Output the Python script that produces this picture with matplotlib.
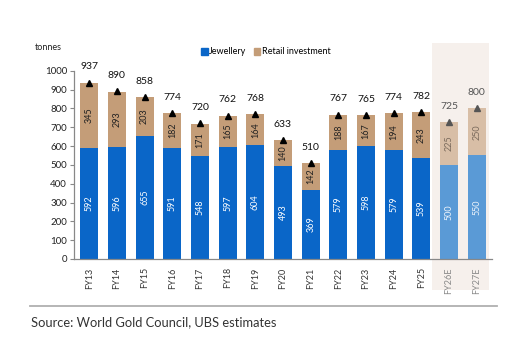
import matplotlib
matplotlib.use("Agg")
import matplotlib.pyplot as plt
from matplotlib.patches import Rectangle
from matplotlib.lines import Line2D
import matplotlib.transforms as mtransforms

plt.rcParams['font.family'] = ['Lato', 'DejaVu Sans']

years = ["FY13", "FY14", "FY15", "FY16", "FY17", "FY18", "FY19", "FY20",
         "FY21", "FY22", "FY23", "FY24", "FY25", "FY26E", "FY27E"]
jewellery = [592, 596, 655, 591, 548, 597, 604, 493, 369, 579, 598, 579, 539, 500, 550]
retail = [345, 293, 203, 182, 171, 165, 164, 140, 142, 188, 167, 194, 243, 225, 250]
totals = [937, 890, 858, 774, 720, 762, 768, 633, 510, 767, 765, 774, 782, 725, 800]
n_forecast = 2

BLUE = "#0a66c8"
TAN = "#c49d78"
BLUE_E = "#5a9ad6"
TAN_E = "#d8bea6"
SHADE = "#f6f0ec"

W, H = 519, 345
fig = plt.figure(figsize=(W / 100, H / 100), dpi=100)
ax = fig.add_axes([74 / W, 1 - 259 / H, (492 - 74) / W, (259 - 70.7) / H])

n = len(years)
x = list(range(n))
jcol = [BLUE] * (n - n_forecast) + [BLUE_E] * n_forecast
rcol = [TAN] * (n - n_forecast) + [TAN_E] * n_forecast
width = 0.65

# shaded forecast band
trans = mtransforms.blended_transform_factory(ax.transData, ax.transAxes)
x0 = n - n_forecast - 0.62
ax.add_patch(Rectangle((x0, -0.165), 2.07, 1.31, transform=trans,
                       facecolor=SHADE, edgecolor="none", clip_on=False, zorder=0))

ax.bar(x, jewellery, width=width, color=jcol, zorder=2, label="Jewellery")
ax.bar(x, retail, width=width, bottom=jewellery, color=rcol, zorder=2,
       label="Retail investment")

for i in range(n):
    est = i >= n - n_forecast
    fc = "#555555" if est else "black"
    ax.plot(i, totals[i], marker="^", color=fc, markersize=5, zorder=4,
            linestyle="none")
    ax.annotate(str(totals[i]), (i, totals[i]), xytext=(0, 8),
                textcoords="offset points", ha="center", va="bottom",
                fontsize=7.5, color=("#555555" if est else "#111111"))
    ax.text(i, jewellery[i] / 2, str(jewellery[i]), rotation=90,
            ha="center", va="center", fontsize=6.5,
            color=("#eef4fb" if est else "white"), zorder=3)
    ax.text(i, jewellery[i] + retail[i] / 2, str(retail[i]), rotation=90,
            ha="center", va="center", fontsize=6.5,
            color=("#7a6a5c" if est else "#222222"), zorder=3)

ax.set_xlim(-0.55, n - 0.45)
ax.set_ylim(0, 1000)
ax.set_yticks(range(0, 1001, 100))
ax.set_xticks(x)
ax.set_xticklabels(years, rotation=90, fontsize=6.5, color="#333333")
for lbl in ax.get_xticklabels()[-n_forecast:]:
    lbl.set_color("#888888")
ax.tick_params(axis="y", labelsize=7, length=3, color="#888888", pad=2,
               labelcolor="#222222")
ax.tick_params(axis="x", length=0, pad=6)
for s in ["top", "right"]:
    ax.spines[s].set_visible(False)
for s in ["left", "bottom"]:
    ax.spines[s].set_color("#888888")
    ax.spines[s].set_linewidth(0.9)

handles = [Rectangle((0, 0), 1, 1, color=BLUE), Rectangle((0, 0), 1, 1, color=TAN)]
fig.legend(handles, ["Jewellery", "Retail investment"], loc="center",
           bbox_to_anchor=(266 / W, 1 - 52 / H), ncol=2, frameon=False,
           fontsize=6.5, handlelength=0.7, handleheight=0.7,
           handletextpad=0.2, columnspacing=0.8)

fig.text(35 / W, 1 - 48 / H, "tonnes", fontsize=6.5, ha="left", va="center",
         color="#222222")

fig.add_artist(Line2D([30 / W, 497 / W], [1 - 306 / H, 1 - 306 / H],
                      transform=fig.transFigure, color="#b0b0b0", linewidth=1.3))
fig.text(31 / W, 1 - 322 / H, "Source: World Gold Council, UBS estimates",
         fontsize=9.3, ha="left", va="center", color="#333333")

fig.savefig("out.png", dpi=100)
